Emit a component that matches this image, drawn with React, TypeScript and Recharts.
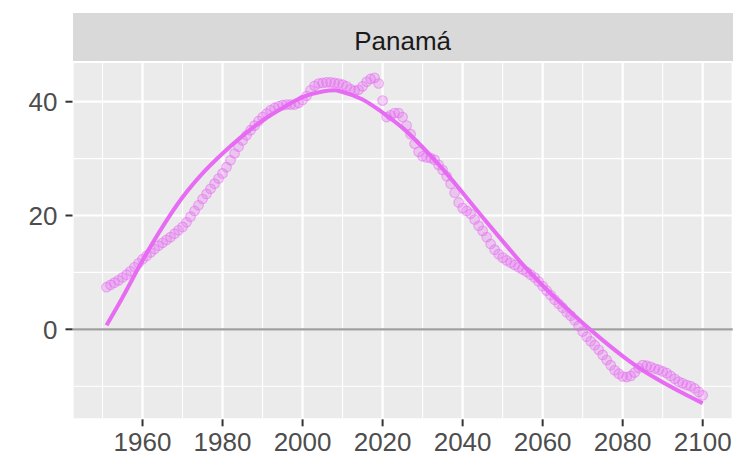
import React from 'react';
import {
  ComposedChart,
  Scatter,
  Line,
  XAxis,
  YAxis,
  CartesianGrid,
  ReferenceLine,
} from 'recharts';

// ---- data ----
const stripLabel = 'Panamá';
const firstYear = 1951;
// yearly values 1951..2100
const pointValues = [
  7.4, 7.8, 8.2, 8.6, 9.1, 9.6, 10.2, 10.9, 11.6, 12.3,
  12.9, 13.5, 14.1, 14.7, 15.2, 15.7, 16.2, 16.8, 17.4, 18.0,
  18.8, 19.8, 20.8, 21.8, 22.9, 23.8, 24.7, 25.6, 26.5, 27.4,
  28.5, 29.7, 30.9, 32.1, 33.2, 34.1, 35.0, 35.8, 36.6, 37.3,
  37.9, 38.5, 38.9, 39.2, 39.4, 39.5, 39.5, 39.5, 39.8, 40.3,
  41.0, 42.0, 42.8, 43.2, 43.3, 43.4, 43.4, 43.3, 43.2, 43.0,
  42.7, 42.2, 41.9, 42.1, 42.7, 43.5, 44.0, 44.2, 43.2, 40.2,
  37.3, 37.6, 38.0, 38.0, 37.3, 35.8, 34.3, 32.6, 31.2, 30.4,
  30.2, 30.1, 29.8, 28.9, 28.0, 26.9, 25.6, 24.0, 22.3, 21.3,
  20.8, 20.3, 19.3, 18.2, 17.3, 16.2, 15.0, 14.0, 13.2, 12.6,
  12.1, 11.7, 11.3, 10.9, 10.5, 10.1, 9.6, 9.1, 8.4, 7.6,
  6.8, 6.0, 5.2, 4.5, 3.8, 3.0, 2.4, 1.6, 0.6, -0.4,
  -1.3, -2.1, -2.8, -3.6, -4.5, -5.4, -6.3, -7.2, -7.8, -8.3,
  -8.4, -8.2, -7.6, -6.8, -6.3, -6.4, -6.6, -6.9, -7.1, -7.4,
  -7.7, -8.2, -8.7, -9.2, -9.5, -9.8, -10.0, -10.4, -11.0, -11.6,
];
const smoothYears = [
  1951, 1955, 1960, 1965, 1970, 1975, 1980, 1985, 1990, 1995, 2000, 2005,
  2008, 2010, 2015, 2020, 2025, 2030, 2035, 2040, 2045, 2050, 2055, 2060,
  2065, 2070, 2075, 2080, 2085, 2090, 2095, 2100,
];
const smoothValues = [
  0.7, 5.6, 12.1, 18.0, 23.2, 27.4, 30.9, 34.0, 36.7, 38.9, 40.8, 41.8,
  42.0, 41.7, 40.4, 38.1, 35.4, 32.0, 28.2, 24.0, 19.7, 15.5, 11.4, 7.7,
  4.3, 1.1, -1.9, -4.7, -7.2, -9.3, -11.2, -13.0,
];
const xTicks = [1960, 1980, 2000, 2020, 2040, 2060, 2080, 2100];
const xMinorTicks = [1950, 1970, 1990, 2010, 2030, 2050, 2070, 2090];
const yTicks = [0, 20, 40];
const yMinorTicks = [-10, 10, 30];
const xDomain = [1942.5, 2107.5];
const yDomain = [-15.82, 46.98];

const points = pointValues.map((v, i) => ({ year: firstYear + i, value: v }));
const smooth = smoothYears.map((y, i) => ({ year: y, value: smoothValues[i] }));

// ---- styles ----
const COLOR = '#E76BF3';
const FONT = '"Liberation Sans", Arial, sans-serif';
const W = 736;
const H = 458;
const PLOT_LEFT = 72.5;
const PLOT_TOP = 62;
const PLOT_RIGHT_MARGIN = 3.3;
const X_AXIS_H = 38.7;
const STRIP_TOP = 13;

const Dot = (props: any) => {
  const { cx, cy } = props;
  if (cx == null || cy == null) return null;
  return (
    <circle
      cx={cx}
      cy={cy}
      r={4.8}
      fill={COLOR}
      fillOpacity={0.28}
      stroke={COLOR}
      strokeOpacity={0.55}
      strokeWidth={1.1}
    />
  );
};

export default function App() {
  return (
    <div style={{ position: 'absolute', left: 0, top: 0, width: W, height: H, background: '#FFFFFF' }}>
      <div
        style={{
          position: 'absolute',
          left: PLOT_LEFT,
          top: STRIP_TOP,
          width: W - PLOT_LEFT - PLOT_RIGHT_MARGIN,
          height: PLOT_TOP - STRIP_TOP,
          background: '#D9D9D9',
        }}
      >
        <div
          style={{
            position: 'absolute',
            left: 0,
            right: 0,
            top: 14.5,
            textAlign: 'center',
            fontFamily: FONT,
            fontSize: 26,
            lineHeight: '26px',
            color: '#1A1A1A',
          }}
        >
          {stripLabel}
        </div>
      </div>
      <ComposedChart
        width={W}
        height={H}
        margin={{ top: PLOT_TOP, right: PLOT_RIGHT_MARGIN, bottom: 0, left: 0 }}
        style={{ position: 'absolute', left: 0, top: 0 }}
      >
        <CartesianGrid fill="#EBEBEB" stroke="#FFFFFF" strokeWidth={2.2} />
        <XAxis
          type="number"
          dataKey="year"
          domain={xDomain}
          ticks={xTicks}
          allowDataOverflow
          height={X_AXIS_H}
          axisLine={false}
          tickLine={{ stroke: '#333333', strokeWidth: 2 }}
          tickSize={7}
          tickMargin={6.5}
          tick={{ fill: '#4D4D4D', fontSize: 26, fontFamily: FONT }}
          interval={0}
        />
        <YAxis
          type="number"
          dataKey="value"
          domain={yDomain}
          ticks={yTicks}
          allowDataOverflow
          width={PLOT_LEFT}
          axisLine={false}
          tickLine={{ stroke: '#333333', strokeWidth: 2 }}
          tickSize={7}
          tickMargin={8}
          tick={{ fill: '#4D4D4D', fontSize: 26, fontFamily: FONT }}
          interval={0}
        />
        {xMinorTicks.map((x) => (
          <ReferenceLine key={'vx' + x} x={x} stroke="#FFFFFF" strokeWidth={1.1} />
        ))}
        {yMinorTicks.map((y) => (
          <ReferenceLine key={'hy' + y} y={y} stroke="#FFFFFF" strokeWidth={1.1} />
        ))}
        <ReferenceLine y={0} stroke="#9E9E9E" strokeWidth={2.2} />
        <Scatter data={points} dataKey="value" shape={Dot} isAnimationActive={false} />
        <Line
          data={smooth}
          dataKey="value"
          type="monotone"
          stroke={COLOR}
          strokeWidth={4}
          dot={false}
          activeDot={false}
          isAnimationActive={false}
        />
      </ComposedChart>
    </div>
  );
}
